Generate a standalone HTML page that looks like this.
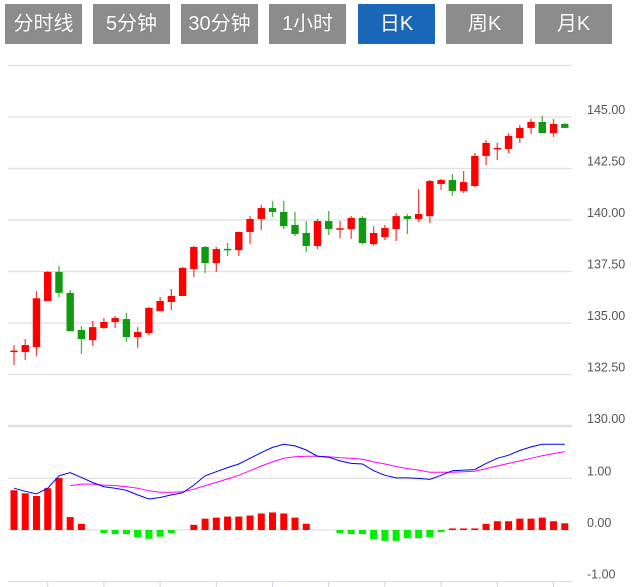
<!DOCTYPE html>
<html><head><meta charset="utf-8">
<style>
body{margin:0;background:#fff;width:632px;height:587px;overflow:hidden;font-family:"Liberation Sans","Noto Sans CJK SC",sans-serif;}
.btn{position:absolute;top:4px;height:40px;width:77px;background:#8c8c8c;color:#fff;font-size:20px;line-height:40px;text-align:center;font-family:"Liberation Sans","Noto Sans CJK SC",sans-serif;text-shadow:0 0 1px #666;}
.btn.active{background:#1a66b8;}
svg{position:absolute;left:0;top:0;}
</style></head><body>
<div class="btn" style="left:5px">分时线</div>
<div class="btn" style="left:93px">5分钟</div>
<div class="btn" style="left:181px">30分钟</div>
<div class="btn" style="left:269px">1小时</div>
<div class="btn active" style="left:358px">日K</div>
<div class="btn" style="left:446px">周K</div>
<div class="btn" style="left:535px">月K</div>
<svg id="chart" width="632" height="587"></svg>
<script>
const opens=[133.64,133.59,133.83,136.07,137.48,136.46,134.66,134.17,134.76,135.05,135.19,134.32,134.51,135.58,136.02,136.31,137.62,138.69,137.91,138.6,138.54,139.42,140.05,140.58,140.39,139.76,139.37,138.74,139.95,139.58,139.56,140.1,138.83,139.17,139.56,140.19,140.05,140.19,141.75,141.94,141.41,141.65,143.11,143.45,143.45,143.98,144.47,144.76,144.22,144.66];
const closes=[133.66,133.93,136.2,137.48,136.46,134.6,134.22,134.8,135.05,135.24,134.32,134.56,135.73,136.07,136.31,137.67,138.69,137.91,138.59,138.57,139.42,140.05,140.58,140.39,139.7,139.32,138.74,139.95,139.56,139.6,140.1,138.88,139.37,139.61,140.19,140.05,140.29,141.89,141.94,141.41,141.84,143.11,143.74,143.5,144.08,144.47,144.76,144.22,144.66,144.47];
const highs=[133.93,134.22,136.55,137.52,137.77,136.6,134.85,135.1,135.24,135.34,135.49,134.8,135.78,136.26,136.65,137.72,138.74,138.74,138.69,138.88,139.42,140.19,140.73,140.92,140.92,140.39,139.95,140.05,140.44,139.95,140.19,140.19,139.7,139.76,140.34,140.29,141.5,141.94,141.99,142.23,142.38,143.25,143.88,143.74,144.22,144.61,144.9,145.05,144.9,144.71];
const lows=[132.96,133.2,133.4,136.07,136.26,134.6,133.5,133.9,134.7,134.76,134.08,133.8,134.42,135.58,135.63,136.31,137.23,137.43,137.48,138.25,138.25,138.83,139.51,140.15,139.56,139.22,138.45,138.59,139.27,139.12,139.08,138.83,138.74,139.03,138.98,139.32,139.9,139.85,141.46,141.17,141.31,141.6,142.67,142.91,143.25,143.74,144.17,144.22,144.03,144.47];
const macdHist=[0.77,0.71,0.66,0.81,1.01,0.25,0.12,0,-0.06,-0.08,-0.08,-0.14,-0.17,-0.13,-0.06,0,0.1,0.22,0.24,0.26,0.26,0.28,0.32,0.34,0.32,0.24,0.12,0,0,-0.06,-0.08,-0.08,-0.18,-0.21,-0.21,-0.16,-0.16,-0.14,-0.04,0.03,0.03,0.03,0.12,0.17,0.17,0.22,0.22,0.24,0.17,0.13];
const difLine=[0.81,0.75,0.70,0.81,1.05,1.11,1.02,0.92,0.84,0.81,0.77,0.68,0.60,0.63,0.68,0.72,0.87,1.05,1.13,1.21,1.28,1.39,1.50,1.60,1.66,1.63,1.55,1.43,1.41,1.34,1.29,1.28,1.15,1.06,1.01,1.01,1.0,0.98,1.06,1.15,1.16,1.17,1.29,1.39,1.45,1.54,1.61,1.66,1.66,1.66];
const deaLine=[null,null,null,null,null,0.86,0.89,0.89,0.87,0.86,0.84,0.81,0.76,0.73,0.73,0.74,0.79,0.86,0.92,0.99,1.06,1.15,1.24,1.32,1.39,1.42,1.43,1.43,1.42,1.40,1.39,1.37,1.32,1.28,1.23,1.19,1.16,1.12,1.12,1.12,1.13,1.14,1.19,1.24,1.29,1.34,1.39,1.44,1.48,1.52];
const priceTicks=[147.5,145,142.5,140,137.5,135,132.5,130];
const priceTickLabels=["","145.00","142.50","140.00","137.50","135.00","132.50","130.00"];
const macdTicks=[1,0,-1];
const macdTickLabels=["1.00","0.00","-1.00"];

const svg=document.getElementById('chart');
const NS='http://www.w3.org/2000/svg';
function mk(tag,attrs,parent){const e=document.createElementNS(NS,tag);for(const k in attrs)e.setAttribute(k,attrs[k]);(parent||svg).appendChild(e);return e;}
const X0=8,X1=572;
function xAt(i){return 14+i*11.24;}
function yP(p){return 117+(145-p)*20.6;}
function yM(v){return 530-v*51.6;}

priceTicks.forEach((t,k)=>{
  const g=mk('line',{x1:X0,x2:X1,y1:yP(t),y2:yP(t),stroke:'#e0e0e0','stroke-width':t===130?2.5:1.2});
  
  
  if(priceTickLabels[k]){const tx=mk('text',{x:587,y:yP(t)-3,'font-size':12.5,fill:'#555','font-family':'Liberation Sans, sans-serif'});tx.textContent=priceTickLabels[k];
  
  }
});
macdTicks.forEach((t,k)=>{
  const g=mk('line',{x1:X0,x2:X1,y1:yM(t),y2:yM(t),stroke:'#e0e0e0','stroke-width':1.2});
  
  
  const tx=mk('text',{x:587,y:yM(t)-3,'font-size':12.5,fill:'#555','font-family':'Liberation Sans, sans-serif'});tx.textContent=macdTickLabels[k];
  
  
});
for(let i=3;i<50;i+=5){const t=mk('line',{x1:xAt(i),x2:xAt(i),y1:582,y2:587,stroke:'#ccd6eb'});
  
  }

opens.forEach((o,i)=>{
  const c=closes[i],up=c>=o,col=up?'#ff0000':'#109a10',x=xAt(i);
  const w=mk('line',{x1:x,x2:x,y1:yP(highs[i]),y2:yP(lows[i]),stroke:col,'stroke-width':1.3,opacity:0.75});
  
  
  const top=yP(Math.max(o,c)),h=Math.max(1.5,Math.abs(yP(o)-yP(c)));
  const b=mk('rect',{x:x-3.7,y:top,width:7.4,height:h,fill:col});
  
  
});
macdHist.forEach((v,i)=>{
  if(v===0)return;
  const y=v>0?yM(v):yM(0),h=Math.abs(yM(v)-yM(0));
  const r=mk('rect',{x:xAt(i)-3.5,y:y,width:7,height:h,fill:v>0?'#ff0000':'#00ee00'});
  
  
});
function path(arr){let d='';arr.forEach((v,i)=>{if(v===null)return;d+=(d?'L':'M')+xAt(i).toFixed(1)+','+yM(v).toFixed(1);});return d;}
const dea=mk('path',{d:path(deaLine),fill:'none',stroke:'#ff00ff','stroke-width':1});


const dif=mk('path',{d:path(difLine),fill:'none',stroke:'#0000ff','stroke-width':1});


</script>
</body></html>
